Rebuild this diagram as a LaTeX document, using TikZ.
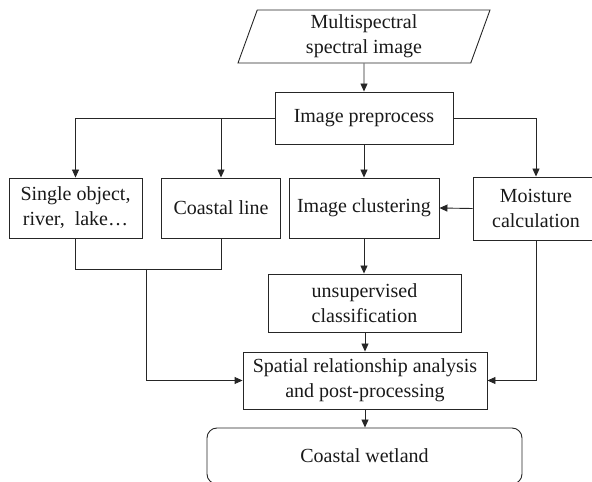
\documentclass[tikz,border=0pt]{standalone}
\usepackage{fontspec}
\setmainfont{Liberation Serif}
\usetikzlibrary{shapes.geometric, arrows.meta}

\tikzset{
    box/.style={draw=black!85, line width=0.9pt, inner sep=0pt, align=center,
                font=\fontsize{20}{25}\selectfont, text=black!90},
    arr/.style={-{Triangle[length=8pt, width=7pt]}, line width=0.9pt, draw=black!85},
    ln/.style={line width=0.9pt, draw=black!85}
}

\begin{document}
\begin{tikzpicture}[x=1pt, y=1pt]
                    \useasboundingbox (0,0) rectangle (592,482);
                    \clip (0,0) rectangle (592,482);

                    % Input and preprocessing
                    \node[box, trapezium, trapezium left angle=66, trapezium right angle=114,
                          trapezium stretches body, minimum width=252pt, minimum height=53pt]
                          (src) at (364,445.5) {Multispectral\\spectral image};
                    \node[box, minimum width=178pt, minimum height=52pt] (pre) at (364,364) {Image preprocess};

                    % Middle row
                    \node[box, minimum width=133pt, minimum height=60pt] (single) at (75.5,274) {Single object,\\river,\ \ lake\ldots};
                    \node[box, minimum width=118.5pt, minimum height=60pt] (coast) at (221,274) {Coastal line};
                    \node[box, minimum width=150pt, minimum height=60pt] (clus) at (364,274) {Image clustering};
                    \node[box, minimum width=126pt, minimum height=63pt] (moist) at (536,273.5) {Moisture\\calculation};

                    % Classification and output
                    \node[box, minimum width=193pt, minimum height=58pt] (unsup) at (364.5,179) {unsupervised\\classification};
                    \node[box, minimum width=244pt, minimum height=57pt] (spat) at (365,101.5) {Spatial relationship analysis\\and post-processing};
                    \node[box, rounded corners=10pt, minimum width=315pt, minimum height=56pt] (wet) at (364.5,26) {Coastal wetland};

                    % Connectors
                    \draw[arr] (src.south) -- (pre.north);
                    \draw[arr] (pre.west) -| (single.north);
                    \draw[arr] (pre.west) -| (coast.north);
                    \draw[arr] (pre.east) -| (moist.north);
                    \draw[arr] (pre.south) -- (clus.north);
                    \draw[arr] (moist.west) -- (clus.east);
                    \draw[arr] (clus.south) -- (unsup.north -| clus.south);
                    \draw[arr] (unsup.south -| spat.north) -- (spat.north);

                    \coordinate (mrg) at (146,213);
                    \draw[ln] (single.south) -- (single.south |- mrg) -- (coast.south |- mrg) -- (coast.south);
                    \draw[arr] (mrg) |- (spat.west);
                    \draw[arr] (moist.south) |- (spat.east);
                    \draw[arr] (spat.south) -- (wet.north -| spat.south);
\end{tikzpicture}
\end{document}
